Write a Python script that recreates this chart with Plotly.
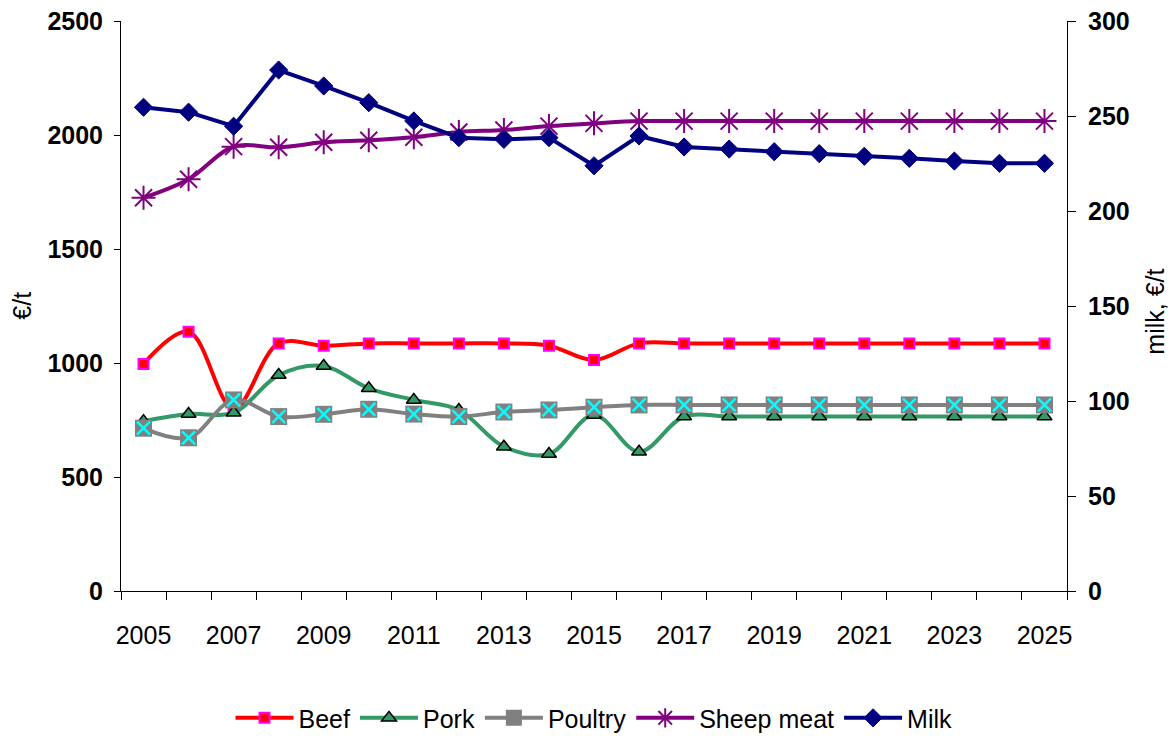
import plotly.graph_objects as go

years = list(range(2005, 2026))
tick_years = [2005, 2007, 2009, 2011, 2013, 2015, 2017, 2019, 2021, 2023, 2025]

beef = [996, 1137, 800, 1086, 1076, 1086, 1086, 1086, 1086, 1076, 1013,
        1086, 1086, 1086, 1086, 1086, 1086, 1086, 1086, 1086, 1086]
pork = [745, 776, 782, 947, 987, 889, 838, 794, 633, 601, 772,
        611, 765, 765, 765, 765, 765, 765, 765, 765, 765]
poultry = [714, 672, 838, 765, 775, 797, 776, 765, 785, 794, 806,
           816, 816, 816, 816, 816, 816, 816, 816, 816, 816]
sheep = [1725, 1806, 1949, 1946, 1968, 1977, 1990, 2013, 2022, 2039, 2051,
         2061, 2061, 2061, 2061, 2061, 2061, 2061, 2061, 2061, 2061]
milk = [254.6, 252.0, 244.6, 274.2, 265.8, 257.0, 247.4, 238.6, 237.7, 238.6, 223.8,
        239.5, 233.7, 232.6, 231.2, 230.2, 228.8, 227.7, 226.3, 225.1, 225.1]

FONT = "Liberation Sans, Arial, sans-serif"

fig = go.Figure()

fig.add_trace(go.Scatter(
    x=years, y=beef, name="Beef", mode="lines+markers",
    line=dict(color="#FF0000", width=4, shape="spline", smoothing=1),
    marker=dict(symbol="square", size=10, color="#FF0000",
                line=dict(color="#FF00FF", width=2)),
))
fig.add_trace(go.Scatter(
    x=years, y=pork, name="Pork", mode="lines+markers",
    line=dict(color="#339966", width=4, shape="spline", smoothing=1),
    marker=dict(symbol="triangle-up", size=13, color="#339966",
                line=dict(color="#000000", width=1.5)),
))
fig.add_trace(go.Scatter(
    x=years, y=poultry, name="Poultry", mode="lines+markers", legendgroup="poultry",
    line=dict(color="#808080", width=4, shape="spline", smoothing=1),
    marker=dict(symbol="square", size=17, color="#808080",
                line=dict(color="#808080", width=0)),
))
fig.add_trace(go.Scatter(
    x=years, y=poultry, name="Poultry", mode="markers", legendgroup="poultry",
    showlegend=False, hoverinfo="skip",
    marker=dict(symbol="x-thin-open", size=13, color="#00FFFF",
                line=dict(color="#00FFFF", width=2.5)),
))
fig.add_trace(go.Scatter(
    x=years, y=sheep, name="Sheep meat", mode="lines+markers",
    line=dict(color="#800080", width=4, shape="spline", smoothing=1),
    marker=dict(symbol="asterisk-open", size=20, color="#800080",
                line=dict(color="#800080", width=2)),
))
fig.add_trace(go.Scatter(
    x=years, y=milk, name="Milk", mode="lines+markers", yaxis="y2",
    line=dict(color="#000080", width=4),
    marker=dict(symbol="diamond", size=14, color="#000080",
                line=dict(color="#000080", width=1)),
))

fig.update_layout(
    width=1173, height=736,
    margin=dict(l=121, r=106, t=21, b=145, autoexpand=False),
    paper_bgcolor="white", plot_bgcolor="white",
    font=dict(family=FONT, size=25, color="black"),
    showlegend=True,
    legend=dict(orientation="h", x=0.5, xanchor="center", y=-0.223, yanchor="middle",
                font=dict(family=FONT, size=25, color="black"),
                itemwidth=58, bgcolor="rgba(0,0,0,0)", traceorder="normal"),
    xaxis=dict(
        range=[2004.5, 2025.5], showgrid=False, zeroline=False, automargin=False,
        showline=True, linecolor="black", linewidth=1,
        tickmode="array", tickvals=tick_years, ticktext=[str(y) for y in tick_years],
        ticks="", ticklabelstandoff=22,
        tickfont=dict(family=FONT, size=25, color="black"),
        minor=dict(tickmode="linear", tick0=2004.5, dtick=1, ticks="outside",
                   ticklen=8, tickcolor="black", tickwidth=1, showgrid=False),
    ),
    yaxis=dict(
        range=[0, 2500], dtick=500, tick0=0, showgrid=False, zeroline=False,
        automargin=False,
        showline=True, linecolor="black", linewidth=1,
        ticks="outside", ticklen=6, tickcolor="black", ticklabelstandoff=6,
        tickfont=dict(family=FONT, size=25, color="black", weight="bold"),
    ),
    yaxis2=dict(
        range=[0, 300], dtick=50, tick0=0, overlaying="y", side="right",
        showgrid=False, zeroline=False, automargin=False,
        showline=True, linecolor="black", linewidth=1,
        ticks="outside", ticklen=8, tickcolor="black", ticklabelstandoff=7,
        tickfont=dict(family=FONT, size=25, color="black", weight="bold"),
    ),
    annotations=[
        dict(text="€/t", xref="paper", yref="paper", x=-0.105, y=0.5,
             xanchor="center", yanchor="middle", textangle=-90, showarrow=False,
             font=dict(family=FONT, size=25, color="black")),
        dict(text="milk, €/t", xref="paper", yref="paper", x=1.093, y=0.49,
             xanchor="center", yanchor="middle", textangle=-90, showarrow=False,
             font=dict(family=FONT, size=25, color="black")),
    ],
)

fig.write_html("out.html", config={"displayModeBar": False},
               post_script="document.body.style.margin='0';document.body.style.overflow='hidden';")
